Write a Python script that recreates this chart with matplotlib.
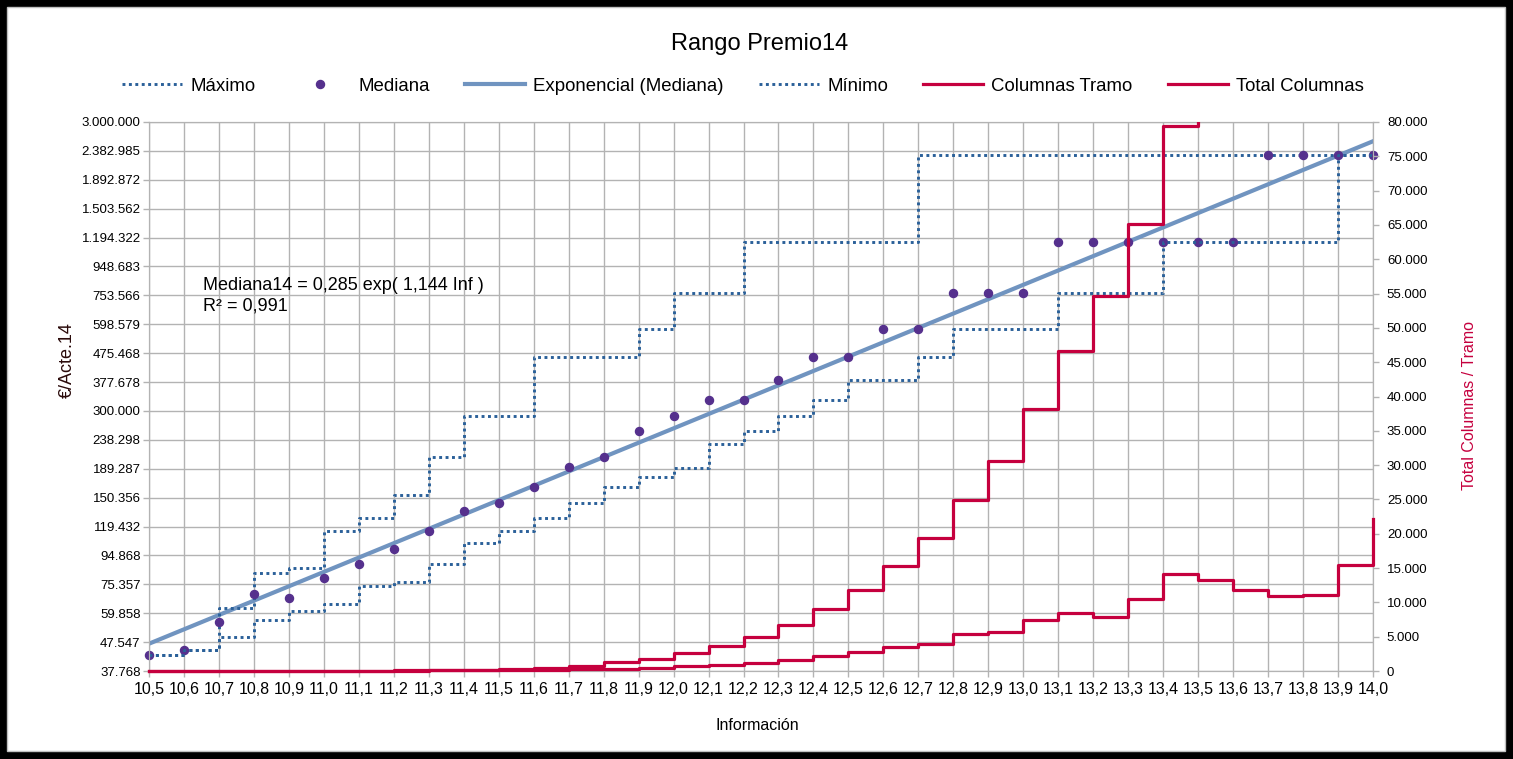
import numpy as np
import matplotlib
matplotlib.use("Agg")
import matplotlib.pyplot as plt
from matplotlib.patches import Rectangle
from matplotlib.ticker import FixedLocator, NullLocator

plt.rcParams['font.family'] = ['Liberation Sans', 'DejaVu Sans']

# Data
informacion = [10.5, 10.6, 10.7, 10.8, 10.9, 11.0, 11.1, 11.2, 11.3, 11.4, 11.5, 11.6,
               11.7, 11.8, 11.9, 12.0, 12.1, 12.2, 12.3, 12.4, 12.5, 12.6, 12.7, 12.8,
               12.9, 13.0, 13.1, 13.2, 13.3, 13.4, 13.5, 13.6, 13.7, 13.8, 13.9, 14.0]

mediana = [42900, 44650, 55900, 69800, 67700, 79400, 88600, 100100, 115300, 135500,
           143700, 164000, 191500, 208300, 255100, 287400, 328200, 328200, 383000,
           460000, 460000, 575000, 575000, 766000, 766000, 766000, 1150000, 1150000,
           1150000, 1150000, 1150000, 1150000, 2306000, 2306000, 2306000, 2306000]

maximo = [42900, 44650, 62200, 82500, 85600, 115000, 127800, 153100, 208300, 288100,
          288100, 461000, 461000, 461000, 575000, 766000, 766000, 1150000, 1150000,
          1150000, 1150000, 1150000, 2306000, 2306000, 2306000, 2306000, 2306000,
          2306000, 2306000, 2306000, 2306000, 2306000, 2306000, 2306000, 2306000, 2306000]

minimo = [42900, 44650, 49400, 56700, 60800, 64300, 74200, 76600, 88600, 104500,
          115000, 127500, 143700, 164200, 176800, 190800, 230600, 255100, 288100,
          328200, 383000, 383000, 460000, 575000, 575000, 575000, 766000, 766000,
          766000, 1150000, 1150000, 1150000, 1150000, 1150000, 2306000, 2306000]

columnas_tramo = [0, 0, 0, 0, 10, 10, 20, 30, 80, 100, 150, 200, 300, 350, 480, 680,
                  870, 1170, 1650, 2140, 2720, 3450, 3890, 5350, 5640, 7390, 8450,
                  7820, 10450, 14140, 13210, 11760, 10890, 11030, 15450, 22150]

total_columnas = [0, 0, 0, 10, 20, 30, 50, 80, 110, 180, 280, 430, 780, 1270, 1750,
                  2580, 3600, 4910, 6660, 8990, 11760, 15300, 19340, 24920, 30560,
                  38140, 46630, 54640, 65140, 79420, 92600, 104400, 115300, 126300,
                  141800, 163900]

# exponential trend (Mediana14 = a exp(b Inf))
coef_a = 0.285
coef_b = 1.144
r2 = 0.991

y_ticks = [37768, 47547, 59858, 75357, 94868, 119432, 150356, 189287, 238298, 300000,
           377678, 475468, 598579, 753566, 948683, 1194322, 1503562, 1892872, 2382985,
           3000000]
y2_ticks = list(range(0, 80001, 5000))

blue = '#2a6099'
purple = '#55308d'
trend_col = '#7094c0'
red = '#c5003e'
grid_col = '#b3b3b3'

fig = plt.figure(figsize=(15.13, 7.59), dpi=100, facecolor='black')
W, H = 1513, 759
fig.add_artist(Rectangle((7 / W, 1 - 751 / H), (1505 - 7) / W, (751 - 7) / H,
                         transform=fig.transFigure, facecolor='white',
                         edgecolor='#c0c0c0', lw=1, zorder=0))

ax = fig.add_axes([149 / W, 1 - 671 / H, (1373 - 149) / W, (671 - 122) / H])
ax.set_facecolor('none')
ax2 = ax.twinx()

ax.set_yscale('log')
ax.set_xlim(10.5, 14.0)
ax.set_ylim(y_ticks[0], y_ticks[-1])
ax2.set_ylim(0, 80000)

l_max, = ax.plot(informacion, maximo, drawstyle='steps-post', color=blue, lw=2.1,
                 ls=(0, (1, 1.2)), label='Máximo')
l_med, = ax.plot(informacion, mediana, ls='none', marker='o', ms=5.8, color=purple,
                 label='Mediana', clip_on=False)
xs = np.linspace(informacion[0], informacion[-1], 200)
l_exp, = ax.plot(xs, coef_a * np.exp(coef_b * xs), color=trend_col, lw=3,
                 label='Exponencial (Mediana)', zorder=1)
l_min, = ax.plot(informacion, minimo, drawstyle='steps-post', color=blue, lw=2.1,
                 ls=(0, (1, 1.2)), label='Mínimo')

# let the red lines show fully at the zero line, but clip them at the top
clip = Rectangle((-0.01, -0.03), 1.02, 1.03, transform=ax2.transAxes,
                 facecolor='none', edgecolor='none')
ax2.add_patch(clip)
l_tramo, = ax2.plot(informacion, columnas_tramo, drawstyle='steps-post', color=red,
                    lw=2.3, label='Columnas Tramo', zorder=3)
l_total, = ax2.plot(informacion, total_columnas, drawstyle='steps-post', color=red,
                    lw=2.3, label='Total Columnas', zorder=3)
for ln in (l_tramo, l_total):
    ln.set_clip_path(clip)

# ticks / grid
ax.xaxis.set_major_locator(FixedLocator(informacion))
ax.set_xticklabels([f"{v:.1f}".replace('.', ',') for v in informacion], fontsize=11.5)
ax.yaxis.set_major_locator(FixedLocator(y_ticks))
ax.yaxis.set_minor_locator(NullLocator())
ax.set_yticklabels([f"{v:,}".replace(',', '.') for v in y_ticks], fontsize=9.5)
ax2.yaxis.set_major_locator(FixedLocator(y2_ticks))
ax2.set_yticklabels([f"{v:,}".replace(',', '.') for v in y2_ticks], fontsize=9.5)

ax.grid(True, color=grid_col, lw=1)
ax.set_axisbelow(True)
for a in (ax, ax2):
    for s in a.spines.values():
        s.set_color(grid_col)
    a.tick_params(color=grid_col, length=4, width=1)
ax.tick_params(axis='y', pad=2)
ax.tick_params(axis='x', pad=4)
ax2.tick_params(axis='y', pad=6)

# texts
fig.text(760 / W, 1 - 44 / H, 'Rango Premio14', ha='center', va='center', fontsize=17)
fig.text(757 / W, 1 - 726 / H, 'Información', ha='center', va='center', fontsize=11.5)
fig.text(67 / W, 1 - 360 / H, '€/Acte.14', ha='center', va='center', rotation=90,
         fontsize=13, color='#2a0a0a')
fig.text(1470 / W, 1 - 405 / H, 'Total Columnas / Tramo', ha='center', va='center',
         rotation=90, fontsize=11.5, color=red)
fig.text(203 / W, 1 - 285 / H, f"Mediana14 = {coef_a:.3f} exp( {coef_b:.3f} Inf )".replace('.', ','),
         ha='left', va='center', fontsize=13)
fig.text(203 / W, 1 - 306 / H, f"R² = {r2:.3f}".replace('.', ','),
         ha='left', va='center', fontsize=13)

fig.legend(handles=[l_max, l_med, l_exp, l_min, l_tramo, l_total], loc='center',
           bbox_to_anchor=(743 / W, 1 - 86 / H), ncol=6, frameon=False, fontsize=13.4,
           handlelength=3.2, columnspacing=1.9, handletextpad=0.45)

fig.savefig('out.png', dpi=100, facecolor=fig.get_facecolor())
